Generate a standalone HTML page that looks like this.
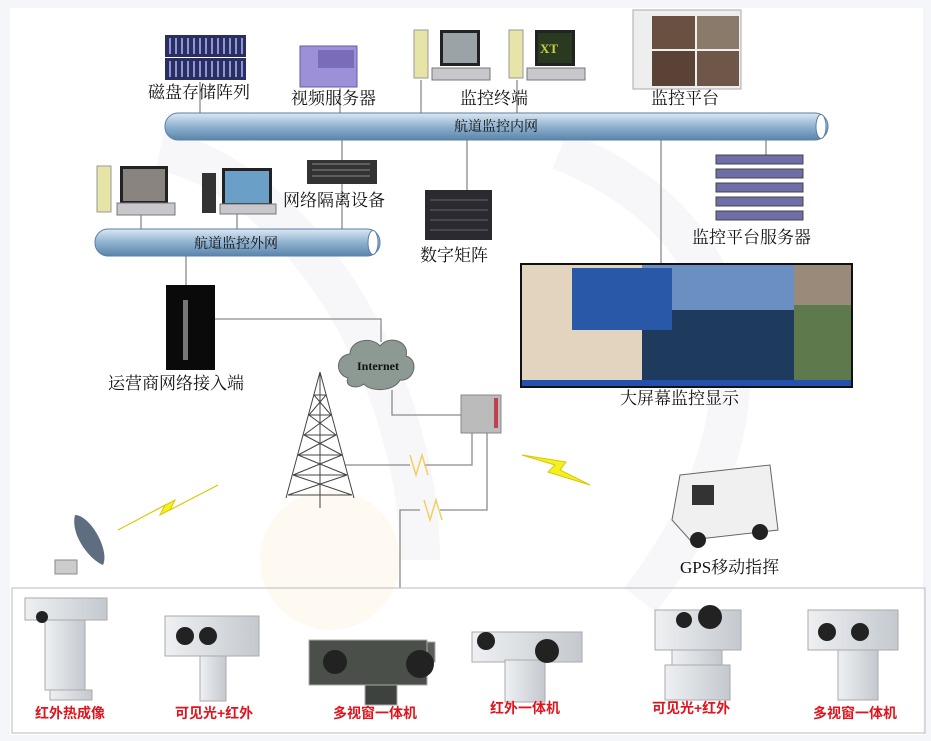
<!DOCTYPE html>
<html><head><meta charset="utf-8"><style>
body{margin:0;background:#fff}
svg{display:block}
text{font-family:"Liberation Serif","Noto Serif CJK SC","Noto Sans CJK SC",serif;fill:#111}
.r{font-family:"Liberation Sans","Noto Sans CJK SC",sans-serif;fill:#e0141e;font-size:14px;font-weight:bold}
</style></head><body>
<svg width="931" height="741" viewBox="0 0 931 741" xmlns="http://www.w3.org/2000/svg">
<defs>
<linearGradient id="pipe" x1="0" y1="0" x2="0" y2="1"><stop offset="0" stop-color="#dde8f2"/><stop offset="0.5" stop-color="#8fb2d0"/><stop offset="1" stop-color="#5a84aa"/></linearGradient>
<linearGradient id="cam" x1="0" y1="0" x2="1" y2="0"><stop offset="0" stop-color="#eef0f2"/><stop offset="1" stop-color="#c4c9cf"/></linearGradient>
</defs>
<rect width="931" height="741" fill="#f4f6fa"/>
<rect x="10" y="8" width="913" height="727" fill="#fff"/>
<path d="M160 150 C300 180 420 380 420 560" stroke="#f7f7fa" stroke-width="40" fill="none"/>
<path d="M560 150 C760 230 780 420 640 600" stroke="#f7f7fa" stroke-width="40" fill="none"/>
<circle cx="330" cy="560" r="70" fill="#fefaf2"/>
<g stroke="#8a8a8a" stroke-width="1.3" fill="none">
<line x1="200" y1="82" x2="200" y2="113"/><line x1="340" y1="88" x2="340" y2="113"/>
<line x1="421" y1="80" x2="421" y2="113"/><line x1="517" y1="80" x2="517" y2="113"/>
<line x1="342" y1="139" x2="342" y2="229"/><line x1="467" y1="139" x2="467" y2="190"/>
<line x1="661" y1="139" x2="661" y2="263"/><line x1="766" y1="139" x2="766" y2="155"/>
<line x1="141" y1="215" x2="141" y2="229"/><line x1="237" y1="214" x2="237" y2="229"/>
<line x1="186" y1="256" x2="186" y2="285"/>
<polyline points="215,319 381,319 381,342"/>
<polyline points="392,390 392,415 462,415"/>
<polyline points="472,433 472,465 424,465"/><line x1="410" y1="465" x2="345" y2="465"/>
<polyline points="487,433 487,510 440,510"/><polyline points="420,510 400,510 400,588"/>
</g>
<g stroke="#f0d060" stroke-width="1.5" fill="none"><polyline points="410,455 416,475 422,455 428,475"/><polyline points="424,500 430,520 436,500 442,520"/></g>
<rect x="12" y="588" width="913" height="145" fill="none" stroke="#bbb"/>
<rect x="165" y="113" width="663" height="27" rx="13" fill="url(#pipe)" stroke="#5a7fa5"/>
<ellipse cx="821" cy="126.5" rx="5" ry="12" fill="#fff" stroke="#5a7fa5"/>
<text x="496" y="131" font-size="14" text-anchor="middle">航道监控内网</text>
<rect x="95" y="229" width="285" height="27" rx="13" fill="url(#pipe)" stroke="#5a7fa5"/>
<ellipse cx="373" cy="242.5" rx="5" ry="12" fill="#fff" stroke="#5a7fa5"/>
<text x="236" y="248" font-size="14" text-anchor="middle">航道监控外网</text>
<rect x="165" y="35" width="81" height="22" fill="#2a2f60"/><rect x="165" y="58" width="81" height="22" fill="#2a2f60"/>
<g stroke="#8d94d8" stroke-width="2"><path d="M170 38v16M176 38v16M182 38v16M188 38v16M194 38v16M200 38v16M206 38v16M212 38v16M218 38v16M224 38v16M230 38v16M236 38v16M242 38v16M170 61v16M176 61v16M182 61v16M188 61v16M194 61v16M200 61v16M206 61v16M212 61v16M218 61v16M224 61v16M230 61v16M236 61v16M242 61v16"/></g>
<text x="148" y="98" font-size="17">磁盘存储阵列</text>
<rect x="300" y="46" width="57" height="41" fill="#9c90d8" stroke="#665aa8"/>
<rect x="318" y="50" width="36" height="18" fill="#7a6cb8"/>
<text x="291" y="104" font-size="17">视频服务器</text>
<g><rect x="414" y="30" width="14" height="48" fill="#e7e4a8" stroke="#999"/><rect x="440" y="30" width="40" height="36" fill="#222"/><rect x="443" y="33" width="34" height="30" fill="#9aa3a8"/><rect x="432" y="68" width="58" height="12" fill="#c8c8cc" stroke="#777"/></g>
<g><rect x="509" y="30" width="14" height="48" fill="#e7e4a8" stroke="#999"/><rect x="535" y="30" width="40" height="36" fill="#222"/><rect x="538" y="33" width="34" height="30" fill="#2a3a20"/><text x="540" y="53" font-size="13" style="fill:#c8d040;font-weight:bold">XT</text><rect x="527" y="68" width="58" height="12" fill="#c8c8cc" stroke="#777"/></g>
<text x="460" y="104" font-size="17">监控终端</text>
<rect x="633" y="10" width="108" height="79" fill="#eee" stroke="#aaa"/>
<rect x="652" y="16" width="43" height="33" fill="#6a5040"/><rect x="697" y="16" width="42" height="33" fill="#8a7a6a"/>
<rect x="652" y="51" width="43" height="35" fill="#5a4236"/><rect x="697" y="51" width="42" height="35" fill="#6e5648"/>
<text x="651" y="104" font-size="17">监控平台</text>
<g><rect x="97" y="166" width="14" height="46" fill="#e7e4a8" stroke="#999"/><rect x="120" y="166" width="48" height="38" fill="#222"/><rect x="123" y="169" width="42" height="32" fill="#8a8480"/><rect x="117" y="203" width="58" height="12" fill="#c8c8cc" stroke="#777"/></g>
<g><rect x="202" y="173" width="14" height="40" fill="#333"/><rect x="222" y="168" width="50" height="38" fill="#222"/><rect x="225" y="171" width="44" height="32" fill="#6aa0c8"/><rect x="220" y="204" width="56" height="10" fill="#c8c8cc" stroke="#777"/></g>
<rect x="307" y="160" width="70" height="24" fill="#333"/><g stroke="#888"><path d="M312 164h58M312 170h58M312 176h58"/></g>
<text x="283" y="206" font-size="17">网络隔离设备</text>
<rect x="425" y="190" width="67" height="50" fill="#2a2a30"/><g stroke="#666"><path d="M430 200h58M430 210h58M430 220h58M430 230h58"/></g>
<text x="420" y="261" font-size="17">数字矩阵</text>
<g fill="#6e6ea8" stroke="#444"><rect x="716" y="155" width="87" height="9"/><rect x="716" y="169" width="87" height="9"/><rect x="716" y="183" width="87" height="9"/><rect x="716" y="197" width="87" height="9"/><rect x="716" y="211" width="87" height="9"/></g>
<text x="692" y="243" font-size="17">监控平台服务器</text>
<rect x="520" y="263" width="333" height="125" fill="#111"/>
<rect x="522" y="265" width="120" height="118" fill="#e2d4bf"/>
<rect x="642" y="265" width="152" height="52" fill="#6a8fc0"/><rect x="642" y="310" width="152" height="73" fill="#1e3a5c"/>
<rect x="794" y="265" width="57" height="40" fill="#9a8a7a"/><rect x="794" y="305" width="57" height="78" fill="#5e7a4c"/>
<rect x="572" y="268" width="100" height="62" fill="#2a58a8"/>
<rect x="522" y="380" width="329" height="6" fill="#2450b0"/>
<text x="620" y="404" font-size="17">大屏幕监控显示</text>
<rect x="166" y="285" width="49" height="85" fill="#0a0a0a"/><rect x="183" y="300" width="5" height="60" fill="#777"/>
<text x="108" y="389" font-size="17">运营商网络接入端</text>
<path d="M348 378 C334 374 336 355 350 354 C350 340 372 336 380 346 C390 334 410 342 406 356 C420 360 414 382 400 380 C394 392 370 392 364 384 C356 390 344 386 348 378Z" fill="#8d9a94" stroke="#666"/>
<text x="378" y="370" font-size="12" text-anchor="middle" font-weight="bold">Internet</text>
<rect x="461" y="395" width="40" height="38" fill="#bbb" stroke="#888"/><rect x="494" y="398" width="4" height="30" fill="#c04050"/>
<g stroke="#444" stroke-width="1" fill="none"><path d="M320 372 L286 498 M320 372 L354 498 M320 372 L320 508"/><path d="M314 395h12M309 415h22M304 435h32M298 455h44M293 475h54M288 495h64"/><path d="M314 395L331 415L309 415L336 435L304 435L342 455L298 455L347 475L293 475L352 495M326 395L309 415L331 415L304 435L336 435L298 455L342 455L293 475L347 475L288 495"/></g>
<path d="M118 530 L165 505 L160 515 L218 485 L170 510 L175 500 Z" fill="#f5f020" stroke="#d8c800"/>
<path d="M522 455 L555 465 L548 472 L590 485 L560 470 L566 462 Z" fill="#f5f020" stroke="#d8c800"/>
<path d="M75 515 C90 515 110 550 103 565 C90 560 70 535 75 515Z" fill="#5e6e80"/><rect x="55" y="560" width="22" height="14" fill="#ccc" stroke="#888"/>
<path d="M680 475 L770 465 L778 530 L690 540 L672 520 Z" fill="#f0f0f0" stroke="#666"/>
<rect x="692" y="485" width="22" height="20" fill="#333"/><circle cx="698" cy="540" r="8" fill="#222"/><circle cx="760" cy="532" r="8" fill="#222"/>
<text x="680" y="573" font-size="17">GPS移动指挥</text>
<g fill="url(#cam)" stroke="#aaa">
<rect x="25" y="598" width="82" height="22"/><rect x="45" y="620" width="40" height="70"/><rect x="50" y="690" width="42" height="10"/>
<rect x="165" y="616" width="94" height="40"/><rect x="200" y="656" width="26" height="45"/>
<rect x="355" y="642" width="80" height="20" fill="#5a5e5a"/><rect x="309" y="640" width="118" height="45" fill="#4a4f4a"/><rect x="365" y="685" width="32" height="20" fill="#3e423e"/>
<rect x="472" y="632" width="110" height="30"/><rect x="505" y="660" width="40" height="42"/>
<rect x="655" y="610" width="86" height="40"/><rect x="672" y="650" width="50" height="15"/><rect x="665" y="665" width="65" height="35"/>
<rect x="808" y="610" width="90" height="40"/><rect x="838" y="650" width="40" height="50"/>
</g>
<g fill="#222"><circle cx="42" cy="617" r="6"/><circle cx="185" cy="636" r="9"/><circle cx="208" cy="636" r="9"/><circle cx="335" cy="662" r="12"/><circle cx="420" cy="664" r="14"/><circle cx="486" cy="641" r="9"/><circle cx="547" cy="651" r="12"/><circle cx="684" cy="620" r="8"/><circle cx="710" cy="617" r="12"/><circle cx="827" cy="632" r="9"/><circle cx="860" cy="632" r="9"/></g>
<text class="r" x="35" y="718">红外热成像</text>
<text class="r" x="175" y="718">可见光+红外</text>
<text class="r" x="333" y="718">多视窗一体机</text>
<text class="r" x="490" y="713">红外一体机</text>
<text class="r" x="652" y="713">可见光+红外</text>
<text class="r" x="813" y="718">多视窗一体机</text>
</svg>
</body></html>
